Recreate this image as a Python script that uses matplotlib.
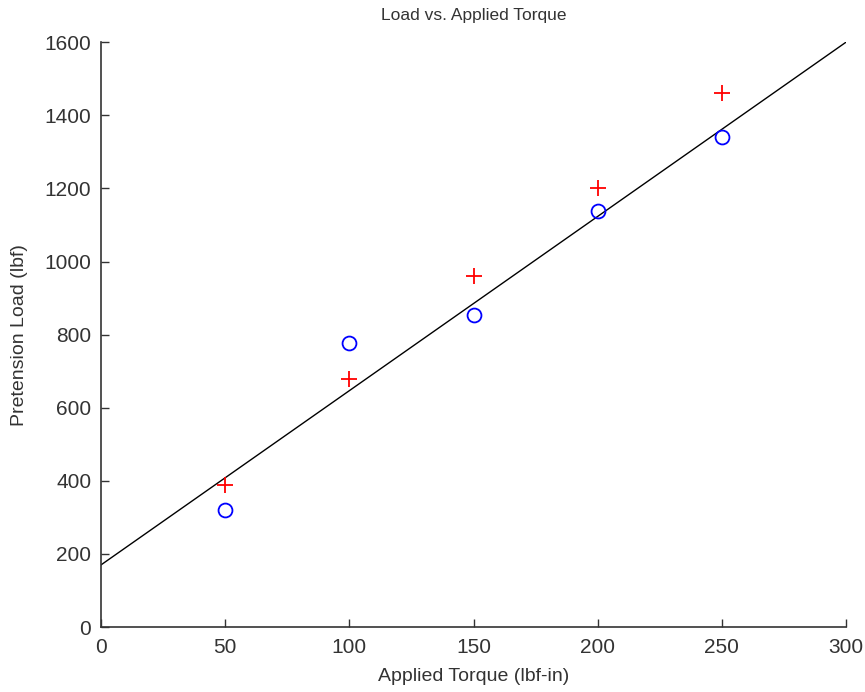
import matplotlib.pyplot as plt
import numpy as np

## measured torque (lbf-in) and pretension load (lbf)
torque = [50, 100, 150, 200, 250]
load_circle = [320, 777, 853, 1138, 1340]
load_plus = [388, 678, 960, 1201, 1461]

## linear fit shown on the plot
fit_x = [0, 300]
fit_y = [170, 1600]

plt.rcParams['font.family'] = ['Liberation Sans', 'DejaVu Sans']

fig = plt.figure(figsize=(8.65, 6.92), dpi=100)
ax = fig.add_axes([0.1168, 0.0939, 0.978 - 0.1168, 0.939 - 0.0939])

ax.plot(fit_x, fit_y, color='black', lw=1)
ax.plot(torque, load_circle, 'o', mfc='none', mec='blue', ms=10, mew=1.3)
ax.plot(torque, load_plus, '+', color='red', ms=12, mew=1.3)

ax.set_xlim(0, 300)
ax.set_ylim(0, 1600)
ax.set_xticks(np.arange(0, 301, 50))
ax.set_yticks(np.arange(0, 1601, 200))

for side in ['top', 'right']:
    ax.spines[side].set_visible(False)
for side in ['left', 'bottom']:
    ax.spines[side].set_color('#333333')
    ax.spines[side].set_linewidth(1.2)

ax.tick_params(direction='in', length=6, width=1, colors='#333333', labelsize=15)
ax.tick_params(axis='x', pad=8)
ax.tick_params(axis='y', pad=7)
ax.set_xlabel('Applied Torque (lbf-in)', fontsize=14, color='#333333', labelpad=8)
ax.set_ylabel('Pretension Load (lbf)', fontsize=14, color='#333333', labelpad=12)
ax.set_title('Load vs. Applied Torque', fontsize=12.5, color='#333333', pad=16)

fig.savefig('out.png', dpi=100)
